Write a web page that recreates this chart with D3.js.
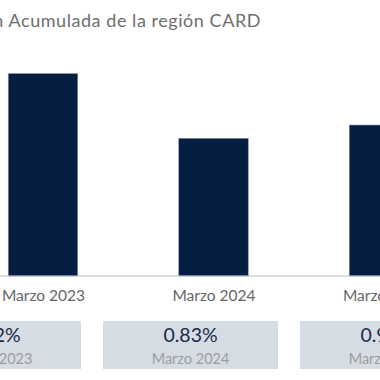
<!DOCTYPE html>
<html><head><meta charset="utf-8">
<script src="https://cdn.jsdelivr.net/npm/d3@7"></script>
<style>body{margin:0;background:#fff;overflow:hidden}svg{display:block}</style>
</head><body>
<script>
const title = "Inflación Acumulada de la región CARD";
const categories = ["Marzo 2023", "Marzo 2024", "Marzo 2025"];
const values = [1.22, 0.83, 0.91];
const cardLabels = ["1.22%", "0.83%", "0.91%"];

const W = 380, H = 380;
const svg = d3.select("body").append("svg").attr("width", W).attr("height", H);
const font = "Lato, 'Open Sans', sans-serif";

const x = d3.scalePoint().domain(categories).range([43, 384]);
const bw = 69.5;
const y = d3.scaleLinear().domain([0, 1.3]).range([276, 276 - 1.3 * 165.9]);

svg.append("text").attr("x", 261).attr("y", 27).attr("text-anchor", "end")
  .attr("font-family", font).attr("font-size", 18).attr("letter-spacing", 0.55)
  .attr("fill", "#6e6e6e").text(title);

svg.selectAll("rect.bar").data(values).join("rect").attr("class", "bar")
  .attr("x", (d, i) => x(categories[i]) - bw / 2).attr("width", bw)
  .attr("y", d => y(d)).attr("height", d => y(0) - y(d))
  .attr("fill", "#061d42").attr("stroke", "#8a93a6").attr("stroke-width", 0.6);

const axis = svg.append("g").attr("transform", `translate(0,${y(0)})`)
  .call(d3.axisBottom(x).tickSize(0).tickPadding(0));
axis.select(".domain").attr("d", "M0,0H380").attr("stroke", "#bdbdbd").attr("stroke-width", 1.2);
axis.selectAll("text").attr("dy", null).attr("y", 25).attr("font-family", font)
  .attr("font-size", 15.5).attr("fill", "#666");

const cx = d3.scalePoint().domain(categories).range([-6.5, 387.5]);
const cw = 175;
const cards = svg.selectAll("g.card").data(categories).join("g").attr("class", "card")
  .attr("transform", d => `translate(${cx(d)},0)`);
cards.append("rect").attr("x", -cw / 2).attr("width", cw).attr("y", 321).attr("height", 48).attr("fill", "#d6dce4");
cards.append("text").attr("text-anchor", "middle").attr("y", 342).attr("font-family", font)
  .attr("font-size", 19.5).attr("fill", "#1b2a48").text((d, i) => cardLabels[i]);
cards.append("text").attr("text-anchor", "middle").attr("y", 363.5).attr("font-family", font)
  .attr("font-size", 14.5).attr("fill", "#9c9c9c").text(d => d);
</script>
</body></html>
